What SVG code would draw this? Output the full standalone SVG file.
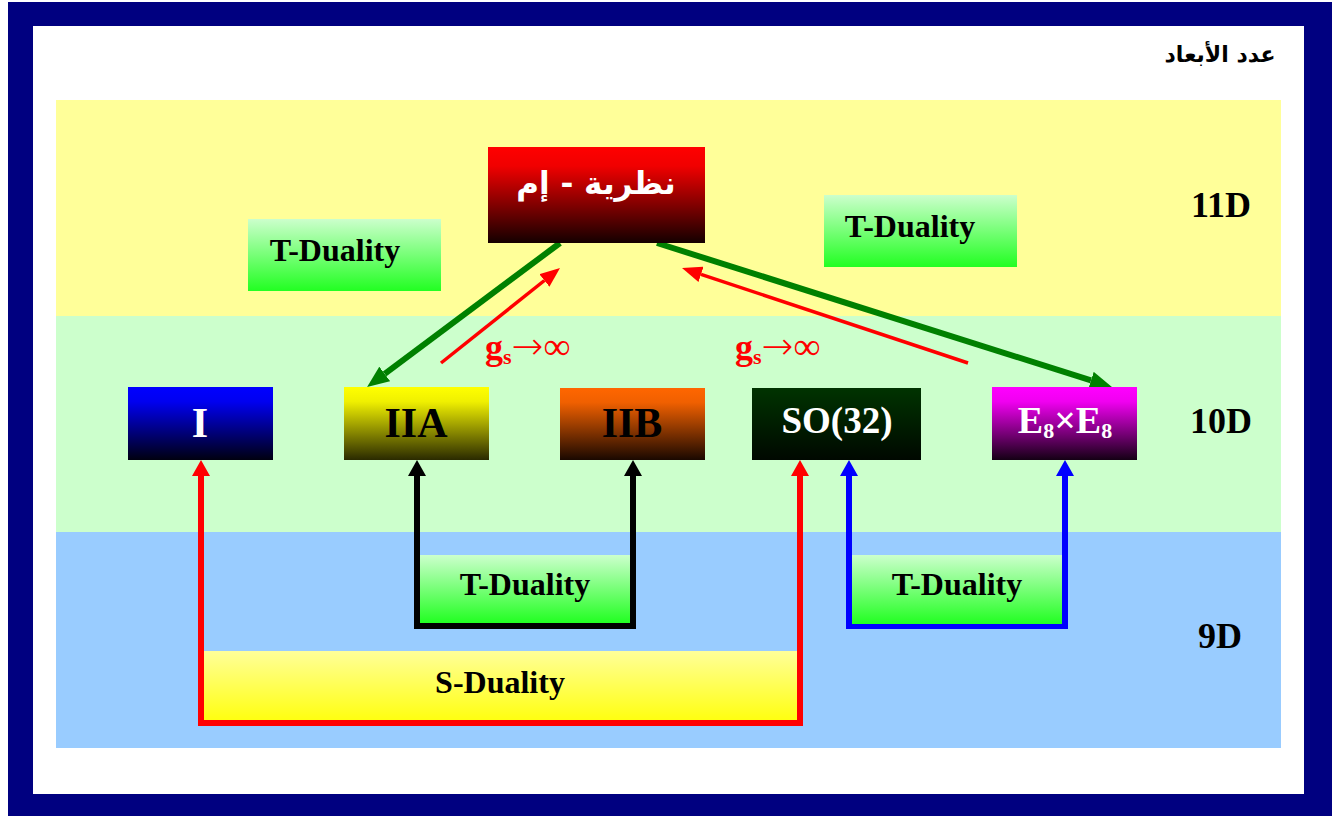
<svg xmlns="http://www.w3.org/2000/svg" width="1332" height="816" viewBox="0 0 1332 816">
  <style>
    .lbl { font-family: "Liberation Serif", "Times New Roman", serif; font-weight: bold; text-anchor: middle; }
    .dual { font-size: 32px; fill: #000; }
    .node { font-size: 42px; }
    .dim { font-size: 36px; fill: #000; }
    .ar { font-family: "DejaVu Sans", sans-serif; font-weight: bold; text-anchor: middle; }
    .gs { font-family: "Liberation Serif", "Times New Roman", serif; fill: #ff0000; }
    .arrow { font-family: "DejaVu Sans", sans-serif; font-size: 38px; font-weight: 200; }
    .inf { font-family: "Liberation Serif", "Times New Roman", serif; font-size: 38px; }
  </style>
  <defs>
    <linearGradient id="gM" x1="0" y1="0" x2="0" y2="1">
      <stop offset="0" stop-color="#ff0000"/>
      <stop offset="0.2" stop-color="#f00000"/>
      <stop offset="1" stop-color="#140000"/>
    </linearGradient>
    <linearGradient id="gI" x1="0" y1="0" x2="0" y2="1">
      <stop offset="0" stop-color="#0000ff"/>
      <stop offset="0.2" stop-color="#0000f0"/>
      <stop offset="1" stop-color="#000010"/>
    </linearGradient>
    <linearGradient id="gIIA" x1="0" y1="0" x2="0" y2="1">
      <stop offset="0" stop-color="#ffff00"/>
      <stop offset="0.2" stop-color="#f0f000"/>
      <stop offset="1" stop-color="#2a2a00"/>
    </linearGradient>
    <linearGradient id="gIIB" x1="0" y1="0" x2="0" y2="1">
      <stop offset="0" stop-color="#ff6600"/>
      <stop offset="0.2" stop-color="#f06000"/>
      <stop offset="1" stop-color="#1a0800"/>
    </linearGradient>
    <linearGradient id="gSO" x1="0" y1="0" x2="0" y2="1">
      <stop offset="0" stop-color="#003300"/>
      <stop offset="1" stop-color="#000800"/>
    </linearGradient>
    <linearGradient id="gE" x1="0" y1="0" x2="0" y2="1">
      <stop offset="0" stop-color="#ff00ff"/>
      <stop offset="0.2" stop-color="#f000f0"/>
      <stop offset="1" stop-color="#140014"/>
    </linearGradient>
    <linearGradient id="gT" x1="0" y1="0" x2="0" y2="1">
      <stop offset="0" stop-color="#ccffcc"/>
      <stop offset="1" stop-color="#22ff22"/>
    </linearGradient>
    <linearGradient id="gS" x1="0" y1="0" x2="0" y2="1">
      <stop offset="0" stop-color="#ffff99"/>
      <stop offset="1" stop-color="#ffff11"/>
    </linearGradient>
    <marker id="ahGreen" markerUnits="userSpaceOnUse" markerWidth="22" markerHeight="18" refX="0" refY="9" orient="auto">
      <path d="M0,0 L22,9 L0,18 z" fill="#008000"/>
    </marker>
    <marker id="ahRed" markerUnits="userSpaceOnUse" markerWidth="20" markerHeight="16" refX="0" refY="8" orient="auto">
      <path d="M0,0 L20,8 L0,16 z" fill="#ff0000"/>
    </marker>
    <marker id="upRed" markerUnits="userSpaceOnUse" markerWidth="16" markerHeight="18" refX="0" refY="9" orient="auto-start-reverse">
      <path d="M0,0 L16,9 L0,18 z" fill="#ff0000"/>
    </marker>
    <marker id="upBlack" markerUnits="userSpaceOnUse" markerWidth="16" markerHeight="18" refX="0" refY="9" orient="auto-start-reverse">
      <path d="M0,0 L16,9 L0,18 z" fill="#000000"/>
    </marker>
    <marker id="upBlue" markerUnits="userSpaceOnUse" markerWidth="16" markerHeight="18" refX="0" refY="9" orient="auto-start-reverse">
      <path d="M0,0 L16,9 L0,18 z" fill="#0000ff"/>
    </marker>
  </defs>

  <!-- frame -->
  <rect x="8" y="2" width="1324" height="814" fill="#000080"/>
  <rect x="33" y="26" width="1271" height="768" fill="#ffffff"/>

  <!-- dimension bands -->
  <g id="bands">
    <rect x="56" y="100" width="1225" height="216" fill="#ffff99"/>
    <rect x="56" y="316" width="1225" height="216" fill="#ccffcc"/>
    <rect x="56" y="532" width="1225" height="216" fill="#99ccff"/>
  </g>

  <g id="dims">
    <text class="ar" x="1220" y="62" font-size="22" fill="#000">عدد الأبعاد</text>
    <text class="lbl dim" x="1221" y="217">11D</text>
    <text class="lbl dim" x="1221" y="433">10D</text>
    <text class="lbl dim" x="1220" y="648">9D</text>
  </g>

  <!-- connectors -->
  <g id="connectors" fill="none">
    <polyline points="201,476 201,723 800,723 800,476" stroke="#ff0000" stroke-width="6" marker-start="url(#upRed)" marker-end="url(#upRed)"/>
    <polyline points="417,476 417,626 633,626 633,476" stroke="#000000" stroke-width="6" marker-start="url(#upBlack)" marker-end="url(#upBlack)"/>
    <polyline points="849,476 849,626 1065,626 1065,476" stroke="#0000ff" stroke-width="6" marker-start="url(#upBlue)" marker-end="url(#upBlue)"/>
    <line x1="560" y1="243" x2="384.7" y2="373.9" stroke="#008000" stroke-width="6" marker-end="url(#ahGreen)"/>
    <line x1="657" y1="243" x2="1091" y2="380.4" stroke="#008000" stroke-width="6" marker-end="url(#ahGreen)"/>
    <line x1="441" y1="363" x2="544.4" y2="280.5" stroke="#ff0000" stroke-width="3.5" marker-end="url(#ahRed)"/>
    <line x1="968" y1="363" x2="701" y2="274.3" stroke="#ff0000" stroke-width="3.5" marker-end="url(#ahRed)"/>
  </g>

  <g id="gs-left">
    <text class="gs" x="485" y="359"><tspan font-size="36" font-weight="bold">g</tspan><tspan font-size="22" font-weight="bold" dy="5">s</tspan><tspan class="arrow" dy="-5">→</tspan><tspan class="inf">∞</tspan></text>
  </g>
  <g id="gs-right">
    <text class="gs" x="735" y="359"><tspan font-size="36" font-weight="bold">g</tspan><tspan font-size="22" font-weight="bold" dy="5">s</tspan><tspan class="arrow" dy="-5">→</tspan><tspan class="inf">∞</tspan></text>
  </g>

  <g id="m-theory">
    <rect x="488" y="147" width="217" height="96" fill="url(#gM)"/>
    <text class="ar" x="596" y="194" font-size="31" fill="#ffffff">نظرية - إم</text>
  </g>

  <g id="t-duality-left">
    <rect x="248" y="219" width="193" height="72" fill="url(#gT)"/>
    <text class="lbl dual" x="335" y="261">T-Duality</text>
  </g>
  <g id="t-duality-right">
    <rect x="824" y="195" width="193" height="72" fill="url(#gT)"/>
    <text class="lbl dual" x="910" y="237">T-Duality</text>
  </g>

  <g id="type-i">
    <rect x="128" y="387" width="145" height="73" fill="url(#gI)"/>
    <text class="lbl node" x="200" y="437" fill="#ffffff">I</text>
  </g>
  <g id="type-iia">
    <rect x="344" y="387" width="145" height="73" fill="url(#gIIA)"/>
    <text class="lbl node" x="416" y="437" fill="#000000">IIA</text>
  </g>
  <g id="type-iib">
    <rect x="560" y="388" width="145" height="72" fill="url(#gIIB)"/>
    <text class="lbl node" x="632" y="437" fill="#000000">IIB</text>
  </g>
  <g id="so32">
    <rect x="752" y="388" width="169" height="72" fill="url(#gSO)"/>
    <text class="lbl" x="837" y="433" font-size="37" fill="#ffffff">SO(32)</text>
  </g>
  <g id="e8xe8">
    <rect x="992" y="387" width="145" height="73" fill="url(#gE)"/>
    <text class="lbl" x="1065" y="433" font-size="38" fill="#ffffff">E<tspan font-size="22" dy="5">8</tspan><tspan dy="-5">×E</tspan><tspan font-size="22" dy="5">8</tspan></text>
  </g>

  <g id="t-duality-iia-iib">
    <rect x="420" y="555" width="210" height="68" fill="url(#gT)"/>
    <text class="lbl dual" x="525" y="595">T-Duality</text>
  </g>
  <g id="t-duality-so-e8">
    <rect x="852" y="555" width="210" height="69" fill="url(#gT)"/>
    <text class="lbl dual" x="957" y="595">T-Duality</text>
  </g>
  <g id="s-duality">
    <rect x="204" y="651" width="593" height="69" fill="url(#gS)"/>
    <text class="lbl dual" x="500" y="693">S-Duality</text>
  </g>
</svg>
